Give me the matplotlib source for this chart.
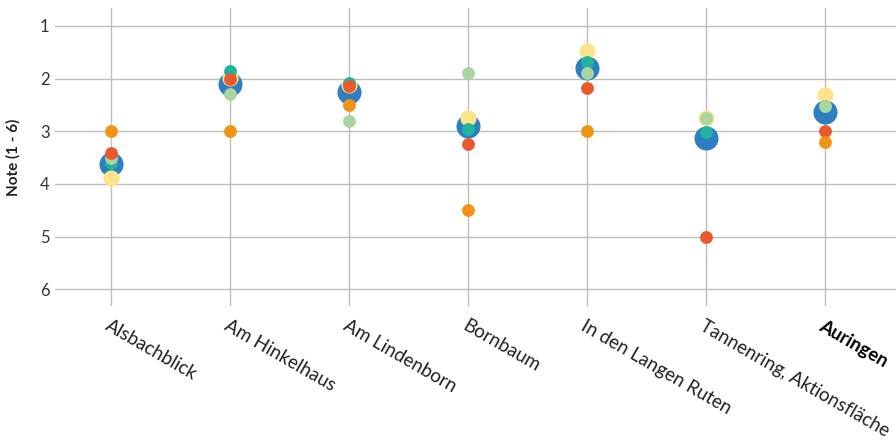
import matplotlib
matplotlib.use("Agg")
import matplotlib.pyplot as plt
import numpy as np

plt.rcParams["font.family"] = ["Lato", "DejaVu Sans"]

# Standorte (x-Achse)
standorte = [
    "Alsbachblick", "Am Hinkelhaus", "Am Lindenborn", "Bornbaum",
    "In den Langen Ruten", "Tannenring, Aktionsfläche", "Auringen",
]

# Noten je Reihe, in Zeichenreihenfolge (unten -> oben)
note_blau = [3.63, 2.11, 2.26, 2.90, 1.80, 3.13, 2.64]
note_gelb = [3.88, 1.99, 2.12, 2.74, 1.48, 2.74, 2.31]
note_tuerkis = [3.60, 1.85, 2.09, 2.95, 1.69, 3.01, 2.52]
note_gruen = [3.51, 2.30, 2.80, 1.89, 1.90, 2.74, 2.52]
note_rot = [3.42, 2.00, 2.14, 3.25, 2.17, 5.00, 3.00]
note_orange = [3.00, 3.00, 2.50, 4.50, 3.00, np.nan, 3.20]

y_ticks = [1, 2, 3, 4, 5, 6]

series = [
    (note_blau, "#2e7fc2", 300),
    (note_gelb, "#fde38a", 135),
    (note_tuerkis, "#21b3a1", 85),
    (note_gruen, "#a9d5a0", 85),
    (note_rot, "#e8592e", 85),
    (note_orange, "#f39313", 85),
]

fig = plt.figure(figsize=(8.96, 4.41), dpi=100)
ax = fig.add_axes([55 / 896, 1 - 306 / 441, 841 / 896, 298 / 441])

x = np.arange(len(standorte))
for values, color, size in series:
    ax.scatter(x, values, s=size, color=color, linewidths=0, zorder=3)

ax.set_xlim(-0.47, 6.6)
ax.set_ylim(6.32, 0.66)
ax.set_yticks(y_ticks)
ax.set_yticklabels([str(t) for t in y_ticks], fontsize=12, color="#333333")
ax.set_xticks(x)
ax.set_xticklabels(standorte, rotation=-30, ha="left", va="top",
                   rotation_mode="anchor", fontsize=13.5, color="#222222")
ax.tick_params(axis="both", length=0)
ax.tick_params(axis="x", pad=8)
ax.tick_params(axis="y", pad=4)
for lbl in ax.get_xticklabels():
    if lbl.get_text() == "Auringen":
        lbl.set_fontweight("bold")
        lbl.set_color("black")

ax.grid(True, color="#bdbdbd", linewidth=1)
ax.set_axisbelow(True)
for sp in ax.spines.values():
    sp.set_visible(False)

ax.set_ylabel("Note (1 - 6)", fontsize=11, fontweight="bold", color="#222222",
              labelpad=14)

fig.savefig("out.png", dpi=100)
